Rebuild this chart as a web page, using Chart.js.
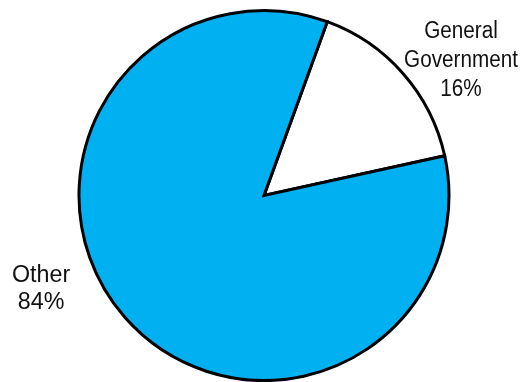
<!DOCTYPE html>
<html>
<head>
<meta charset="utf-8">
<script src="https://cdn.jsdelivr.net/npm/chart.js@4"></script>
<style>
html,body{margin:0;padding:0;background:#fff;}
#wrap{width:526px;height:382px;position:relative;}
</style>
</head>
<body>
<div id="wrap"><canvas id="c" width="526" height="382"></canvas></div>
<script>
const categories = ["General Government", "Other"];
const shares = [16, 84];
const labelLines = [["General", "Government", "16%"], ["Other", "84%"]];
const sliceColors = ["#FFFFFF", "#00B0F0"];

// label placement relative to pie centre, in multiples of the radius (anchor = first baseline)
const labelPlacement = [
  {fx: 1.065, fy: -0.85, size: 23, sx: 0.9, lh: 29},
  {fx: -1.205, fy: 0.465, size: 23.5, sx: 0.99, lh: 27}
];

const outsideLabels = {
  id: 'outsideLabels',
  afterDraw(chart) {
    const ctx = chart.ctx;
    const arcs = chart.getDatasetMeta(0).data;
    arcs.forEach((arc, i) => {
      const p = labelPlacement[i];
      const r = arc.outerRadius;
      const x = arc.x + p.fx * r;
      let y = arc.y + p.fy * r;
      ctx.save();
      ctx.fillStyle = '#111';
      ctx.font = p.size + 'px "Liberation Sans", Arial, sans-serif';
      ctx.textAlign = 'center';
      ctx.textBaseline = 'alphabetic';
      labelLines[i].forEach(line => {
        ctx.save();
        ctx.translate(x, y);
        ctx.scale(p.sx, 1);
        ctx.fillText(line, 0, 0);
        ctx.restore();
        y += p.lh;
      });
      ctx.restore();
    });
  }
};

new Chart(document.getElementById('c'), {
  type: 'pie',
  data: {
    labels: categories,
    datasets: [{
      data: shares,
      backgroundColor: sliceColors,
      borderColor: '#000',
      borderWidth: 3,
      borderJoinStyle: 'miter'
    }]
  },
  options: {
    responsive: false,
    animation: false,
    rotation: 20,
    layout: {padding: {top: 9, bottom: 0, left: 2, right: 0}},
    plugins: {legend: {display: false}, tooltip: {enabled: false}}
  },
  plugins: [outsideLabels]
});
</script>
</body>
</html>
